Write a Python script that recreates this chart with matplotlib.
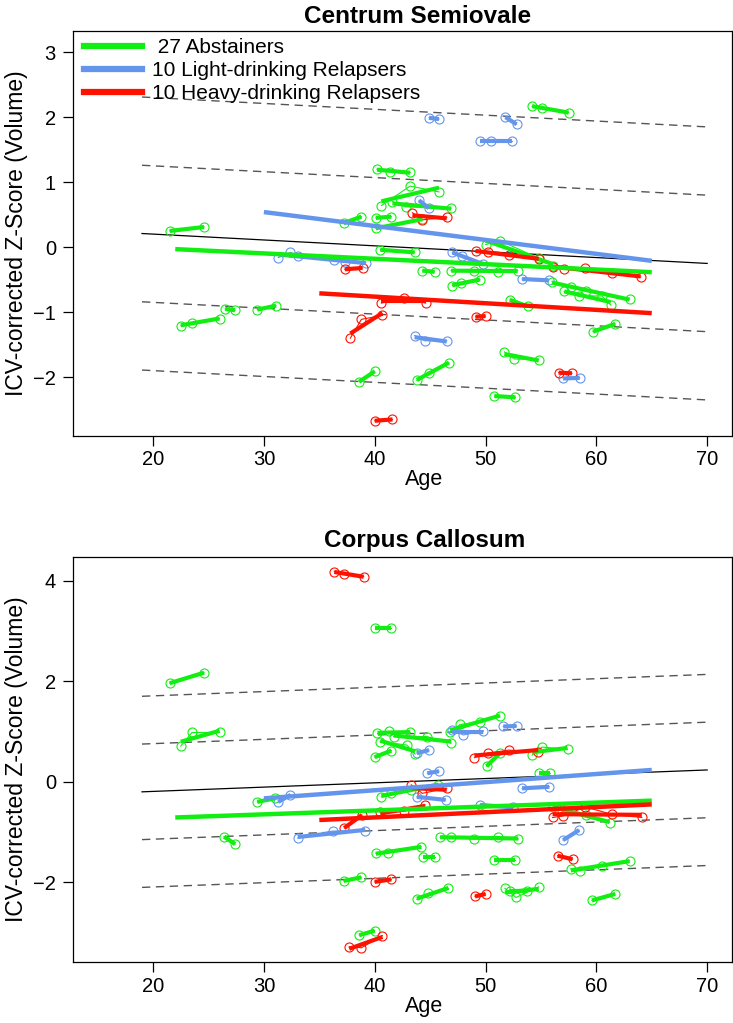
import numpy as np
import matplotlib.pyplot as plt
from matplotlib.lines import Line2D

plt.rcParams['font.family'] = ['Liberation Sans', 'DejaVu Sans']

GREEN = "#11EE11"
BLUE = "#6495ED"
RED = "#FF1100"

# ---------------- Centrum Semiovale ----------------
cs_abst_age = [[21.5, 24.6], [37.2, 38.8], [40.2, 41.4, 43.2], [40.6, 43.2, 45.8],
               [41.6, 42.8, 46.9], [40.1, 41.5], [40.1, 44.3], [40.5, 43.6],
               [54.2, 55.1, 57.5], [50.0, 51.3, 54.8, 56.1], [44.3, 45.4],
               [46.9, 49.0, 51.1, 52.9], [47.0, 47.8, 49.5], [56.0, 57.7, 59.1, 63.0],
               [57.1, 58.4, 60.5, 61.3], [52.2, 53.8], [22.5, 23.5, 26.0], [26.5, 27.4],
               [29.4, 31.1], [59.7, 61.7], [51.7, 52.6, 54.8], [38.6, 40.0],
               [43.8, 44.9, 46.7], [50.8, 52.7]]
cs_abst_z = [[0.25, 0.31], [0.37, 0.47], [1.20, 1.16, 1.15], [0.64, 0.94, 0.85],
             [0.70, 0.62, 0.60], [0.45, 0.47], [0.29, 0.43], [-0.04, -0.08],
             [2.17, 2.14, 2.07], [0.04, 0.10, -0.17, -0.29], [-0.36, -0.38],
             [-0.36, -0.36, -0.38, -0.36], [-0.59, -0.55, -0.50], [-0.53, -0.62, -0.67, -0.80],
             [-0.68, -0.75, -0.75, -0.89], [-0.81, -0.91], [-1.21, -1.16, -1.10], [-0.95, -0.97],
             [-0.96, -0.90], [-1.30, -1.18], [-1.61, -1.72, -1.73], [-2.07, -1.91],
             [-2.05, -1.93, -1.78], [-2.29, -2.31]]

cs_light_age = [[44.9, 45.8], [51.8, 52.8], [49.5, 50.5, 52.4], [44.0, 44.9],
                [31.3, 32.4, 33.1, 36.3, 37.3, 39.2], [47.0, 47.9, 49.8], [53.3, 55.7],
                [43.6, 44.5, 46.5], [57.0, 58.5]]
cs_light_z = [[1.99, 1.97], [2.00, 1.89], [1.64, 1.64, 1.64], [0.72, 0.60],
              [-0.16, -0.08, -0.13, -0.20, -0.23, -0.24], [-0.08, -0.14, -0.26], [-0.49, -0.51],
              [-1.36, -1.44, -1.44], [-2.02, -2.01]]

cs_heavy_age = [[43.4, 44.3, 46.5], [37.3, 38.9], [49.1, 50.2, 52.1, 54.8],
                [56.1, 57.1, 59.0, 61.4, 64.0], [40.6, 42.6, 44.6], [37.8, 38.8, 40.7],
                [49.1, 50.0], [56.6, 57.8], [40.0, 41.6]]
cs_heavy_z = [[0.53, 0.42, 0.46], [-0.34, -0.32], [-0.06, -0.08, -0.12, -0.18],
              [-0.30, -0.34, -0.32, -0.40, -0.46], [-0.86, -0.78, -0.86], [-1.40, -1.11, -1.05],
              [-1.07, -1.06], [-1.93, -1.94], [-2.67, -2.65]]

cs_norm_z = [0.21, -0.25]          # control regression at ages 19 and 70
cs_sd = 1.05
cs_fit_abst = [-0.03, -0.385]      # group fits at ages [22, 65]
cs_fit_light = [0.54, -0.21]       # ages [30, 65]
cs_fit_heavy = [-0.71, -1.015]     # ages [35, 65]

# ---------------- Corpus Callosum ----------------
cc_abst_age = [[21.5, 24.6], [22.5, 23.5, 26.0], [40.0, 41.5], [40.25, 41.3, 43.2],
               [40.5, 42.9, 43.65], [41.7, 44.7, 46.9], [40.0, 41.5], [46.8, 47.7, 49.5, 51.3],
               [50.1, 51.3], [54.2, 55.1, 57.4], [54.85, 55.8], [40.6, 41.5, 43.3, 45.75],
               [29.4, 31.0], [26.4, 27.4], [56.1, 56.9, 59.1, 61.2],
               [45.9, 46.9, 49.0, 51.1, 52.95], [40.1, 41.2, 44.2], [44.4, 45.4], [50.8, 52.65],
               [57.7, 58.5, 60.5, 63.0], [37.2, 38.8], [43.8, 44.85, 46.65],
               [51.75, 52.75, 54.8], [52.2, 53.7], [59.6, 61.7], [38.6, 40.0]]
cc_abst_z = [[1.96, 2.17], [0.71, 0.98, 0.98], [3.05, 3.05], [0.96, 1.00, 0.98],
             [0.80, 0.73, 0.55], [0.90, 0.90, 0.77], [0.49, 0.62], [0.98, 1.14, 1.19, 1.31],
             [0.31, 0.57], [0.53, 0.69, 0.65], [0.18, 0.18], [-0.30, -0.22, -0.16, -0.06],
             [-0.40, -0.33], [-1.09, -1.24], [-0.50, -0.56, -0.66, -0.81],
             [-1.10, -1.10, -1.14, -1.09, -1.14], [-1.42, -1.41, -1.29], [-1.49, -1.49], [-1.55, -1.55],
             [-1.73, -1.77, -1.67, -1.57], [-1.97, -1.90], [-2.34, -2.22, -2.12],
             [-2.12, -2.30, -2.09], [-2.17, -2.17], [-2.36, -2.23], [-3.05, -2.96]]

cc_light_age = [[43.8, 44.9], [47.0, 48.0, 49.8], [51.6, 52.8], [44.75, 45.8], [53.3, 55.75],
                [43.8, 46.4], [49.5, 52.5], [33.05, 36.2, 39.15], [57.0, 58.45], [31.3, 32.4]]
cc_light_z = [[0.57, 0.63], [1.03, 0.93, 1.01], [1.10, 1.11], [0.17, 0.21], [-0.13, -0.10],
              [-0.30, -0.36], [-0.46, -0.51], [-1.12, -0.98, -0.98], [-1.16, -0.96], [-0.40, -0.26]]

cc_heavy_age = [[36.35, 37.2, 39.0], [49.0, 50.2, 52.1, 54.75], [43.3, 44.3, 46.5],
                [40.5, 42.6, 44.55], [37.25, 38.85], [56.05, 57.0, 59.0, 61.45, 64.1],
                [56.5, 57.85], [40.0, 41.5], [49.05, 50.0], [37.7, 38.8, 40.7]]
cc_heavy_z = [[4.18, 4.13, 4.08], [0.48, 0.57, 0.63, 0.60], [-0.06, -0.23, -0.13],
              [-0.61, -0.59, -0.46], [-0.92, -0.66], [-0.71, -0.68, -0.50, -0.65, -0.71],
              [-1.47, -1.54], [-1.99, -1.94], [-2.28, -2.23], [-3.28, -3.30, -3.06]]

cc_norm_z = [-0.20, 0.235]
cc_sd = 0.95
cc_fit_abst = [-0.71, -0.375]
cc_fit_light = [-0.33, 0.235]
cc_fit_heavy = [-0.76, -0.45]

norm_ages = [19, 70]
fit_ages_abst = [22, 65]
fit_ages_light = [30, 65]
fit_ages_heavy = [35, 65]

legend_labels = [" 27 Abstainers", "10 Light-drinking Relapsers", "10 Heavy-drinking Relapsers"]


def draw_panel(ax, groups, norm_z, sd, fits, ylim, yticks):
    nz = np.array(norm_z)
    for k in (-2, -1, 1, 2):
        ax.plot(norm_ages, nz + k * sd, color="#555555", lw=1, ls=(0, (6, 4)), zorder=1)
    ax.plot(norm_ages, nz, color="black", lw=0.9, zorder=1)

    for ages, zs, col in groups:
        for a, z in zip(ages, zs):
            a = np.array(a)
            z = np.array(z)
            ax.plot(a, z, color=col, lw=0.8, marker="o", ms=6.5, mfc="none",
                    mec=col, mew=0.8, zorder=2)
            p = np.polyfit(a, z, 1)
            xx = np.array([a.min(), a.max()])
            ax.plot(xx, np.polyval(p, xx), color=col, lw=3, zorder=3,
                    solid_capstyle="butt")

    for xs, ys, col in fits:
        ax.plot(xs, ys, color=col, lw=3.2, zorder=4, solid_capstyle="butt")

    ax.set_xlim(12.8, 72.2)
    ax.set_ylim(*ylim)
    ax.set_xticks([20, 30, 40, 50, 60, 70])
    ax.set_yticks(yticks)
    ax.tick_params(direction="out", length=7.5, width=0.9, labelsize=14.5, pad=3)
    ax.tick_params(axis="y", pad=5)
    for s in ax.spines.values():
        s.set_linewidth(0.9)
    ax.set_xlabel("Age", fontsize=15.5)
    ax.xaxis.set_label_coords(0.533, -0.083)
    ax.set_ylabel("ICV-corrected Z-Score (Volume)", fontsize=16.5, labelpad=4)


fig = plt.figure(figsize=(7.33, 10.23), dpi=100)
ax1 = fig.add_axes([0.1, 0.5741, 0.898, 0.3959])
ax2 = fig.add_axes([0.1, 0.0593, 0.898, 0.3965])

draw_panel(ax1,
           [(cs_abst_age, cs_abst_z, GREEN), (cs_light_age, cs_light_z, BLUE),
            (cs_heavy_age, cs_heavy_z, RED)],
           cs_norm_z, cs_sd,
           [(fit_ages_abst, cs_fit_abst, GREEN), (fit_ages_light, cs_fit_light, BLUE),
            (fit_ages_heavy, cs_fit_heavy, RED)],
           (-2.90, 3.33), [-2, -1, 0, 1, 2, 3])

draw_panel(ax2,
           [(cc_abst_age, cc_abst_z, GREEN), (cc_light_age, cc_light_z, BLUE),
            (cc_heavy_age, cc_heavy_z, RED)],
           cc_norm_z, cc_sd,
           [(fit_ages_abst, cc_fit_abst, GREEN), (fit_ages_light, cc_fit_light, BLUE),
            (fit_ages_heavy, cc_fit_heavy, RED)],
           (-3.59, 4.475), [-2, 0, 2, 4])

fig.text(418 / 733, 1 - 23 / 1023, "Centrum Semiovale", ha="center", va="baseline",
         fontsize=17.5, fontweight="bold")
fig.text(425 / 733, 1 - 547 / 1023, "Corpus Callosum", ha="center", va="baseline",
         fontsize=17.5, fontweight="bold")

handles = [Line2D([], [], color=c, lw=4.5) for c in (GREEN, BLUE, RED)]
ax1.legend(handles, legend_labels, loc="upper left", frameon=False, fontsize=15,
           handlelength=2.8, handletextpad=0.5, labelspacing=0.2,
           borderaxespad=0.1, bbox_to_anchor=(0.0, 1.008))

fig.savefig("out.png", dpi=100)
